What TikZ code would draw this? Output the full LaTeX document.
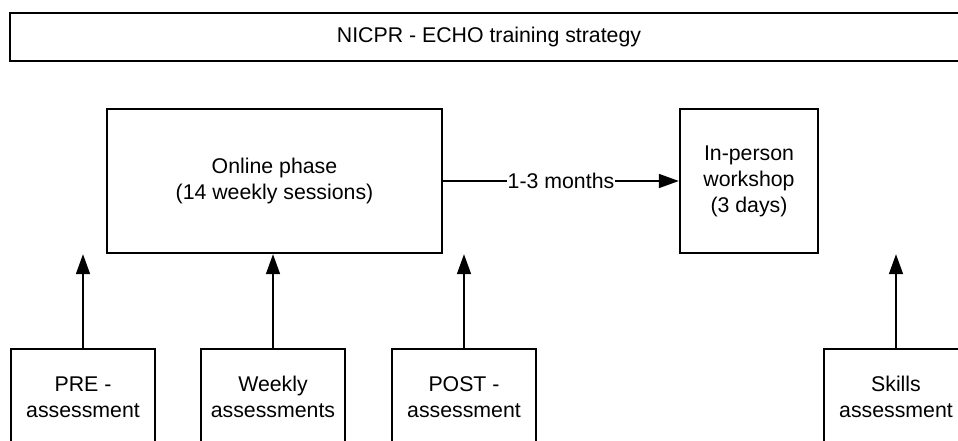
\documentclass[tikz,border=0pt]{standalone}
\usepackage{fontspec}
\setmainfont{Liberation Sans}
\usetikzlibrary{arrows.meta}

\begin{document}
\begin{tikzpicture}[x=1pt, y=-1pt,
        box/.style={draw, line width=2.4pt, align=center, inner sep=0pt,
            font=\fontsize{21.3}{26}\selectfont},
        conn/.style={-{Triangle[length=20pt,width=14pt]}, line width=1.7pt}]
        \useasboundingbox (0,0) rectangle (958,440);
        \clip (0,0) rectangle (958,440);
        \node[box, minimum width=958pt, minimum height=48pt] (title) at (489,37) {NICPR - ECHO training strategy};
        \node[box, minimum width=335pt, minimum height=144pt] (online) at (274.5,181) {Online phase\\(14 weekly sessions)};
        \node[box, minimum width=138pt, minimum height=144pt] (inperson) at (749,181) {In-person\\workshop\\(3 days)};
        \draw[conn] (online) -- node[fill=white, inner sep=1pt, font=\fontsize{21.3}{26}\selectfont] {1-3 months} (inperson);
        \foreach \x/\name/\txt in {83/pre/{PRE -\\assessment}, 273/weekly/{Weekly\\assessments}, 464/post/{POST -\\assessment}, 896/skills/{Skills\\assessment}} {
            \node[box, minimum width=144pt, minimum height=96pt] (\name) at (\x,397) {\txt};
        }
        \foreach \name in {pre, weekly, post} {
            \draw[conn] (\name.north) -- (\name.north |- online.south);
        }
        \draw[conn] (skills.north) -- (skills.north |- inperson.south);
        \end{tikzpicture}
\end{document}
